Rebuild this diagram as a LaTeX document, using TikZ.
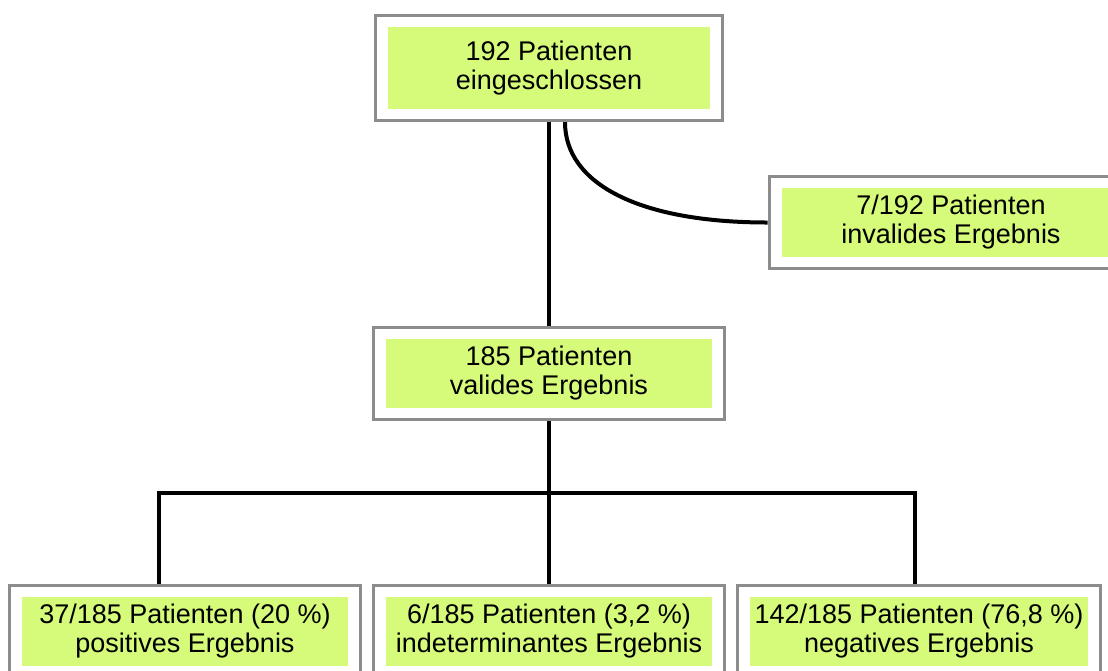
\documentclass[tikz,border=0pt]{standalone}
\usepackage{fontspec}
\setmainfont{Liberation Sans}
\usetikzlibrary{fit}

\definecolor{hellgruen}{RGB}{214,250,122}
\definecolor{rahmengrau}{RGB}{140,140,140}

\begin{document}
\begin{tikzpicture}[x=0.5pt,y=-0.5pt,
  feld/.style={fill=hellgruen, inner sep=0pt, align=center, minimum height=34.5pt,
    minimum width=163pt, font=\fontsize{13.5}{14.5}\selectfont},
  rahmen/.style={draw=rahmengrau, line width=1.5pt, inner xsep=6.2pt, inner ysep=5.6pt},
  linie/.style={black, line width=2pt}]
\useasboundingbox (0,0) rectangle (1108,670);
\clip (0,0) rectangle (1108,670);
% boxes
\node [feld, minimum width=161pt, minimum height=41pt] (start) at (549,68) {192 Patienten\\eingeschlossen};
\node [rahmen, fit=(start)] (startR) {};
\node [feld, minimum width=169pt] (invalid) at (951,222.5) {7/192 Patienten\\invalides Ergebnis};
\node [rahmen, fit=(invalid)] (invalidR) {};
\node [feld] (valid) at (549,373.5) {185 Patienten\\valides Ergebnis};
\node [rahmen, fit=(valid)] (validR) {};
\node [feld] (pos) at (185,631.5) {37/185 Patienten (20 \%)\\positives Ergebnis};
\node [rahmen, fit=(pos)] (posR) {};
\node [feld] (indet) at (549,631.5) {6/185 Patienten (3,2 \%)\\indeterminantes Ergebnis};
\node [rahmen, fit=(indet)] (indetR) {};
\node [feld, minimum width=169pt] (neg) at (919,631.5) {142/185 Patienten (76,8 \%)\\negatives Ergebnis};
\node [rahmen, fit=(neg)] (negR) {};
% connectors
\coordinate (mitte) at (549,493);
\coordinate (links) at (159,493);
\coordinate (rechts) at (915,493);
\draw [linie] (startR.south) -- (validR.north);
\draw [linie] ([xshift=8pt]startR.south) .. controls +(0,62) and +(-128,0) .. (invalidR.west);
\draw [linie] (validR.south) -- (mitte);
\draw [linie] (links |- posR.north) -- (links) -- (rechts) -- (rechts |- negR.north);
\draw [linie] (mitte) -- (indetR.north);
\end{tikzpicture}
\end{document}
